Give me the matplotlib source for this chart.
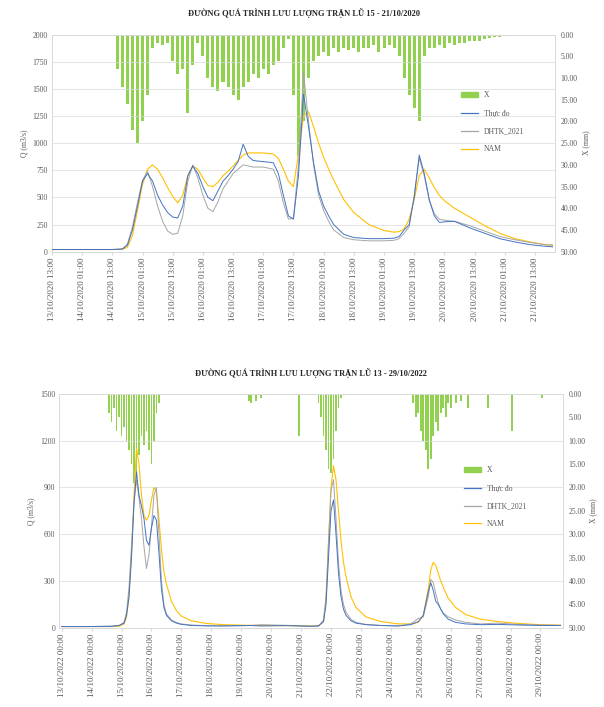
import matplotlib
matplotlib.use("Agg")
import matplotlib.pyplot as plt
from matplotlib.patches import Patch
from matplotlib.lines import Line2D

plt.rcParams["font.family"] = ["Liberation Serif", "DejaVu Serif"]

# ---------------- flood 1 : 2020 (hours from 13/10/2020 13:00) ----------------
title_1 = "ĐƯỜNG QUÁ TRÌNH LƯU LƯỢNG TRẬN LŨ 15 - 21/10/2020"
hours_1 = [0, 12, 24, 28, 30, 32, 34, 36, 38, 40, 42, 44, 46, 48, 50, 52, 54, 56, 58,
           60, 62, 64, 66, 68, 70, 72, 74, 76, 78, 80, 84, 88, 90, 92, 94, 96, 98, 100,
           102, 104, 106, 108, 110, 112, 116, 120, 126, 132, 136, 138, 140, 142, 144,
           146, 148, 150, 152, 154, 156, 160, 166, 172, 178, 184, 190, 196, 199]
q_obs_1 = [20, 20, 20, 25, 60, 200, 420, 650, 720, 650, 520, 430, 360, 320, 310, 420,
           700, 790, 720, 600, 500, 470, 560, 650, 700, 760, 830, 990, 880, 840, 830,
           820, 720, 520, 330, 300, 700, 1450, 1150, 820, 560, 420, 330, 250, 160, 130,
           120, 120, 125, 140, 200, 250, 500, 890, 720, 480, 330, 270, 275, 280, 220,
           170, 120, 90, 65, 50, 45]
q_dhtk_1 = [20, 20, 20, 25, 70, 230, 450, 660, 740, 600, 420, 280, 190, 160, 170, 330,
            650, 800, 680, 520, 400, 370, 460, 580, 650, 720, 760, 800, 790, 780, 780,
            760, 650, 450, 300, 310, 800, 1650, 1200, 800, 520, 380, 280, 200, 130, 110,
            100, 100, 105, 120, 170, 230, 520, 860, 700, 470, 350, 300, 290, 280, 240,
            190, 140, 110, 85, 65, 60]
q_nam_1 = [20, 20, 20, 22, 40, 150, 380, 620, 760, 800, 760, 680, 590, 510, 450, 520,
           700, 790, 760, 680, 610, 600, 640, 700, 740, 790, 840, 890, 910, 910, 910,
           900, 860, 760, 650, 600, 900, 1250, 1290, 1150, 1000, 870, 760, 660, 480, 360,
           250, 195, 180, 185, 210, 300, 480, 700, 760, 680, 590, 520, 470, 400, 320,
           240, 170, 120, 90, 65, 60]
rain_hours_1 = list(range(26, 184, 2))
rain_1 = [8, 12, 16, 22, 25, 20, 14, 3, 2, 2.5, 2, 6, 9, 8, 18, 7, 2, 5, 10, 12, 13,
          11, 12, 14, 15, 12, 11, 9, 10, 8, 9, 7, 6, 3, 1, 14, 28, 20, 10, 6, 5, 4, 5,
          3, 4, 3, 3.5, 3, 4, 3, 3, 2.5, 4, 3, 2.5, 3, 5, 10, 14, 17, 20, 5, 3, 3, 2.5,
          3, 2, 2.5, 2, 2, 1.5, 1.5, 1.5, 1, 0.8, 0.6, 0.5, 0.3, 0.2]
tick_hours_1 = list(range(0, 193, 12))
tick_labels_1 = ["13/10/2020 13:00", "14/10/2020 01:00", "14/10/2020 13:00",
                 "15/10/2020 01:00", "15/10/2020 13:00", "16/10/2020 01:00",
                 "16/10/2020 13:00", "17/10/2020 01:00", "17/10/2020 13:00",
                 "18/10/2020 01:00", "18/10/2020 13:00", "19/10/2020 01:00",
                 "19/10/2020 13:00", "20/10/2020 01:00", "20/10/2020 13:00",
                 "21/10/2020 01:00", "21/10/2020 13:00"]

# ---------------- flood 2 : 2022 (hours from 13/10/2022 00:00) ----------------
title_2 = "ĐƯỜNG QUÁ TRÌNH LƯU LƯỢNG TRẬN LŨ 13 - 29/10/2022"
hours_2 = [0, 20, 40, 46, 50, 52, 54, 56, 58, 60, 62, 64, 66, 68, 70, 72, 74, 76, 78,
           80, 82, 84, 88, 92, 96, 104, 116, 130, 150, 160, 180, 200, 206, 210, 212,
           214, 216, 218, 220, 222, 224, 226, 228, 232, 236, 244, 256, 270, 280, 286,
           290, 294, 296, 298, 300, 302, 304, 306, 310, 316, 324, 336, 350, 366, 384, 400]
q_obs_2 = [8, 8, 10, 15, 30, 80, 200, 450, 800, 1000, 850, 780, 700, 560, 530, 640,
           720, 690, 480, 250, 130, 80, 45, 30, 22, 15, 12, 12, 15, 12, 14, 10, 12, 40,
           150, 450, 750, 820, 600, 350, 200, 120, 80, 45, 30, 20, 15, 12, 20, 40, 80,
           230, 290, 240, 170, 150, 120, 90, 55, 35, 25, 20, 22, 18, 15, 15]
q_dhtk_2 = [8, 8, 10, 15, 35, 100, 260, 520, 800, 950, 830, 700, 520, 380, 470, 650,
            850, 900, 600, 300, 150, 90, 50, 35, 25, 18, 14, 12, 14, 20, 16, 10, 12, 50,
            200, 550, 880, 950, 700, 420, 240, 150, 100, 55, 35, 22, 15, 12, 25, 60, 70,
            200, 310, 290, 220, 160, 120, 95, 70, 50, 35, 25, 30, 22, 18, 16]
q_nam_2 = [8, 8, 8, 10, 25, 70, 200, 480, 850, 1150, 1050, 850, 720, 690, 720, 820,
           900, 870, 700, 500, 360, 280, 170, 110, 75, 45, 28, 20, 16, 15, 14, 12, 12,
           40, 180, 550, 900, 1040, 950, 750, 560, 420, 330, 200, 130, 70, 40, 25, 25,
           35, 80, 250, 370, 420, 400, 350, 300, 260, 190, 130, 85, 55, 40, 28, 20, 17]
rain_hours_2 = [38, 40, 42, 44, 46, 48, 50, 52, 54, 56, 58, 60, 62, 64, 66, 68, 70, 72,
                74, 76, 78, 150, 152, 156, 160, 190, 206, 208, 210, 212, 214, 216, 218,
                220, 222, 224, 282, 284, 286, 288, 290, 292, 294, 296, 298, 300, 302,
                304, 306, 308, 310, 312, 316, 320, 326, 342, 361, 385]
rain_2 = [4, 6, 3, 8, 5, 9, 7, 10, 12, 15, 19, 17, 13, 9, 11, 8, 12, 15, 10, 4, 2,
          1.5, 2, 1.5, 1, 9, 2, 5, 9, 12, 16, 17, 14, 8, 3, 1, 2, 5, 4, 8, 10, 12, 16,
          14, 9, 6, 8, 4, 3, 5, 2, 3, 2, 1.5, 3, 3, 8, 1]
tick_hours_2 = list(range(0, 385, 24))
tick_labels_2 = ["%02d/10/2022 00:00" % d for d in range(13, 30)]

legend_labels = ["X", "Thực đo", "DHTK_2021", "NAM"]
c_obs = "#4472C4"
c_dhtk = "#A5A5A5"
c_nam = "#FFC000"
c_rain = "#92D050"
c_grid = "#D9D9D9"


def draw_panel(fig, rect, title, hours, q_obs, q_dhtk, q_nam, rain_hours, rain,
               tick_hours, tick_labels, xlim, qmax, qstep, rain_width, leg_anchor):
    ax = fig.add_axes(rect)
    ax.plot(hours, q_nam, color=c_nam, lw=0.8, zorder=3)
    ax.plot(hours, q_dhtk, color=c_dhtk, lw=0.7, zorder=4)
    ax.plot(hours, q_obs, color=c_obs, lw=0.7, zorder=5)
    ax.set_xlim(*xlim)
    ax.set_ylim(0, qmax)
    ax.set_yticks(range(0, qmax + 1, qstep))
    ax.set_xticks(tick_hours)
    ax.set_xticklabels(tick_labels, rotation=90, fontsize=6.5, color="#595959")
    ax.tick_params(axis="y", labelsize=5.5, colors="#595959", length=0, pad=3)
    ax.tick_params(axis="x", length=2, color=c_grid, pad=2)
    ax.grid(axis="y", color=c_grid, lw=0.5)
    ax.set_axisbelow(True)
    ax.set_ylabel("Q (m3/s)", fontsize=5.5, color="#595959", labelpad=3)
    for s in ax.spines.values():
        s.set_color(c_grid)
        s.set_linewidth(0.6)

    ax2 = ax.twinx()
    ax2.bar(rain_hours, rain, width=rain_width, color=c_rain, align="center", zorder=1)
    ax2.set_ylim(50, 0)
    ax2.set_yticks(range(0, 51, 5))
    ax2.set_yticklabels(["%.2f" % v for v in range(0, 51, 5)])
    ax2.tick_params(axis="y", labelsize=5.5, colors="#595959", length=0, pad=4)
    ax2.set_ylabel("X (mm)", fontsize=5.5, color="#595959", labelpad=3)
    for s in ax2.spines.values():
        s.set_color(c_grid)
        s.set_linewidth(0.6)
    ax.set_zorder(ax2.get_zorder() + 1)
    ax.patch.set_visible(False)

    handles = [Patch(color=c_rain), Line2D([], [], color=c_obs, lw=0.9),
               Line2D([], [], color=c_dhtk, lw=0.9), Line2D([], [], color=c_nam, lw=0.9)]
    ax.legend(handles, legend_labels, loc="upper left", bbox_to_anchor=leg_anchor,
              frameon=False, fontsize=5.5, handlelength=2.2, handleheight=0.6,
              labelspacing=1.3, labelcolor="#595959")

    fig.text(rect[0] + rect[2] / 2, rect[1] + rect[3] + 0.03, title, ha="center",
             va="center", fontsize=6, fontweight="bold", color="#262626")
    return ax


fig = plt.figure(figsize=(6.04, 7.07), dpi=100)

draw_panel(fig, [0.086, 0.644, 0.833, 0.307], title_1, hours_1, q_obs_1, q_dhtk_1,
           q_nam_1, rain_hours_1, rain_1, tick_hours_1, tick_labels_1, (0, 200),
           2000, 250, 1.2, (0.80, 0.77))

draw_panel(fig, [0.098, 0.112, 0.834, 0.331], title_2, hours_2, q_obs_2, q_dhtk_2,
           q_nam_2, rain_hours_2, rain_2, tick_hours_2, tick_labels_2, (-2, 402),
           1500, 300, 1.5, (0.79, 0.72))

fig.savefig("out.png", dpi=100)
